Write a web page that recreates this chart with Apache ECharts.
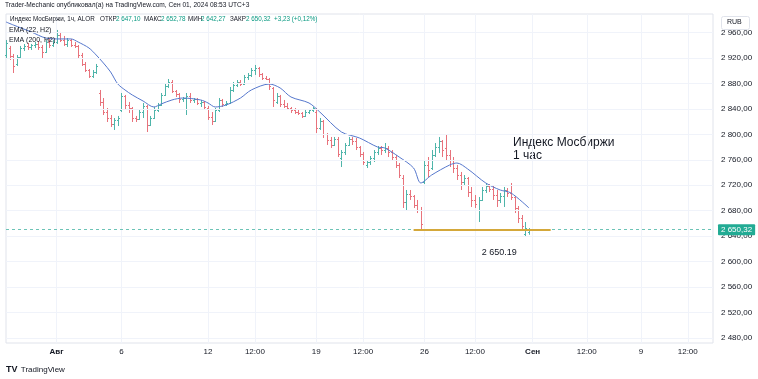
<!DOCTYPE html>
<html><head><meta charset="utf-8">
<script src="https://cdn.jsdelivr.net/npm/echarts@6/dist/echarts.min.js"></script>
<style>html,body{margin:0;padding:0;background:#fff}#c{width:758px;height:379px}</style>
</head><body><div id="c"></div>
<script>
// ---- data (hourly bars, index = bar number) ----
const opens = [2924.7,2935.7,2923.1,2910.6,2921.6,2935.7,2938.9,2937.3,2940.4,2942.0,2937.3,2929.4,2945.1,2940.4,2945.1,2956.1,2948.3,2942.0,2948.3,2940.4,
2938.9,2924.7,2910.6,2901.1,2891.7,2898.0,2865.0,2850.9,2835.1,2825.7,2816.3,2822.6,2838.3,2860.3,2846.1,2841.4,2825.7,2824.1,2835.1,2844.6,
2814.7,2825.7,2838.3,2846.1,2861.9,2876.0,2882.3,2868.1,2863.4,2855.6,2857.1,2860.3,2854.0,2855.6,2849.3,2850.9,2841.4,2827.3,2821.0,2838.3,
2854.0,2847.7,2849.3,2869.7,2877.6,2882.3,2879.1,2890.1,2893.3,2901.1,2904.3,2894.9,2888.6,2887.0,2872.9,2850.9,2860.3,2847.7,2844.6,2841.4,
2838.3,2835.1,2833.6,2828.9,2835.1,2838.3,2835.1,2810.0,2821.0,2800.6,2791.1,2783.3,2792.7,2762.9,2772.3,2783.3,2792.7,2789.6,2780.1,2769.1,
2751.9,2756.6,2762.9,2772.3,2778.6,2775.4,2778.6,2772.3,2764.4,2751.9,2731.4,2693.7,2706.3,2703.1,2689.0,2681.1,2725.1,2751.9,2747.1,2767.6,
2780.1,2789.6,2778.6,2767.6,2759.7,2747.1,2736.1,2725.1,2731.4,2709.4,2696.9,2681.1,2696.9,2712.6,2718.9,2714.1,2704.7,2696.9,2703.1,2712.6,
2707.9,2701.6,2684.3,2668.6,2643.4,2647.10];
const highs = [2948.3,2938.9,2926.3,2924.7,2938.9,2942.0,2943.6,2942.0,2945.1,2946.7,2940.4,2948.3,2951.4,2948.3,2964.0,2960.9,2954.6,2951.4,2949.9,2945.1,
2940.4,2927.9,2913.7,2902.7,2901.1,2910.6,2869.7,2857.1,2841.4,2830.4,2825.7,2828.9,2865.0,2861.9,2850.9,2843.0,2828.9,2838.3,2849.3,2846.1,
2828.9,2843.0,2849.3,2865.0,2880.7,2887.0,2885.4,2869.7,2865.0,2858.7,2865.0,2865.0,2857.1,2857.1,2854.0,2852.4,2844.6,2835.1,2841.4,2857.1,
2855.6,2852.4,2874.4,2882.3,2885.4,2885.4,2893.3,2896.4,2904.3,2909.0,2905.9,2896.4,2891.7,2888.6,2874.4,2865.0,2861.9,2854.0,2849.3,2843.0,
2841.4,2838.3,2835.1,2838.3,2839.9,2843.0,2841.4,2825.7,2822.6,2802.1,2795.9,2795.9,2795.9,2775.4,2786.4,2795.9,2795.9,2794.3,2781.7,2772.3,
2759.7,2766.0,2775.4,2781.7,2781.7,2786.4,2781.7,2775.4,2767.6,2755.0,2736.1,2712.6,2712.6,2704.7,2696.9,2685.9,2759.7,2764.4,2775.4,2786.4,
2795.9,2791.1,2799.0,2775.4,2764.4,2751.9,2740.9,2736.1,2733.0,2717.3,2704.7,2701.6,2717.3,2723.6,2722.0,2718.9,2712.6,2707.9,2717.3,2715.7,
2723.6,2703.1,2687.4,2673.3,2662.3,2652.78];
const lows = [2920.0,2916.9,2896.4,2907.4,2920.0,2931.0,2932.6,2932.6,2935.7,2932.6,2920.0,2927.9,2935.7,2937.3,2942.0,2945.1,2938.9,2937.3,2937.3,2935.7,
2920.0,2907.4,2898.0,2888.6,2888.6,2894.9,2844.6,2830.4,2819.4,2811.6,2806.9,2813.1,2835.1,2838.3,2833.6,2819.4,2819.4,2822.6,2825.7,2803.7,
2813.1,2824.1,2835.1,2844.6,2860.3,2872.9,2865.0,2858.7,2849.3,2850.9,2830.4,2849.3,2849.3,2846.1,2843.0,2838.3,2822.6,2814.7,2819.4,2835.1,
2843.0,2844.6,2847.7,2866.6,2874.4,2876.0,2877.6,2885.4,2890.1,2893.3,2890.1,2885.4,2885.4,2869.7,2843.0,2847.7,2843.0,2841.4,2838.3,2833.6,
2832.0,2830.4,2825.7,2827.3,2832.0,2835.1,2802.1,2806.9,2794.3,2783.3,2778.6,2781.7,2764.4,2748.7,2767.6,2781.7,2783.3,2775.4,2764.4,2751.9,
2747.1,2751.9,2756.6,2767.6,2767.6,2770.7,2764.4,2759.7,2747.1,2731.4,2684.3,2681.1,2696.9,2684.3,2676.4,2649.7,2722.0,2733.0,2744.0,2764.4,
2770.7,2764.4,2759.7,2748.7,2739.3,2728.3,2712.6,2718.9,2701.6,2685.9,2684.3,2662.3,2695.3,2707.9,2709.4,2696.9,2685.9,2692.1,2685.9,2701.6,
2696.9,2676.4,2660.7,2649.7,2638.7,2642.27];
const closes = [2943.6,2923.1,2907.4,2921.6,2935.7,2938.9,2937.3,2940.4,2942.0,2937.3,2929.4,2945.1,2940.4,2945.1,2956.1,2948.3,2942.0,2948.3,2940.4,2938.9,
2924.7,2910.6,2901.1,2891.7,2898.0,2907.4,2850.9,2835.1,2825.7,2816.3,2822.6,2825.7,2860.3,2846.1,2841.4,2825.7,2824.1,2835.1,2844.6,2814.7,
2825.7,2838.3,2846.1,2861.9,2876.0,2882.3,2868.1,2863.4,2855.6,2857.1,2860.3,2854.0,2855.6,2849.3,2850.9,2843.0,2827.3,2821.0,2838.3,2854.0,
2847.7,2849.3,2869.7,2877.6,2882.3,2879.1,2890.1,2893.3,2901.1,2904.3,2894.9,2888.6,2887.0,2876.0,2854.0,2860.3,2847.7,2844.6,2841.4,2838.3,
2835.1,2833.6,2828.9,2835.1,2838.3,2841.4,2810.0,2821.0,2800.6,2791.1,2783.3,2792.7,2769.1,2772.3,2783.3,2792.7,2789.6,2780.1,2769.1,2756.6,
2756.6,2762.9,2772.3,2778.6,2775.4,2778.6,2772.3,2764.4,2751.9,2736.1,2693.7,2706.3,2703.1,2689.0,2681.1,2659.1,2751.9,2744.0,2767.6,2780.1,
2789.6,2775.4,2767.6,2759.7,2747.1,2736.1,2725.1,2731.4,2709.4,2696.9,2690.6,2696.9,2712.6,2718.9,2714.1,2704.7,2696.9,2703.1,2712.6,2707.9,
2701.6,2684.3,2668.6,2656.0,2652.9,2650.32];
// EMA(22) read at some bars
const emaIdx = [0,2,7,11,15,18,20,23,25,27,29,31,33,35,38,41,43,46,49,54,56,58,61,65,68,73,76,79,84,87,93,98,103,105,109,113,115,118,123,125,128,133,137,140,145];
const emaVal = [2976.6,2971.9,2960.9,2951.4,2949.9,2949.9,2945.1,2935.7,2924.7,2912.1,2898.0,2879.1,2869.7,2861.9,2852.4,2843.0,2847.7,2854.0,2857.1,2854.0,2849.3,2843.0,2846.1,2857.1,2869.7,2879.1,2872.9,2858.7,2849.3,2835.1,2803.7,2794.3,2780.1,2778.6,2764.4,2747.1,2723.6,2736.1,2751.9,2755.0,2745.6,2723.6,2712.6,2707.9,2684.3];
const totalSlots = 197;
const tickIdx  = [14,32,56,69,86,99,116,130,146,161,176,189];
const tickText = ['Авг','6','12','12:00','19','12:00','26','12:00','Сен','12:00','9','12:00'];
const priceTicks = [2480,2520,2560,2600,2640,2680,2720,2760,2800,2840,2880,2920,2960];
const lastPrice = 2650.32;
const levelPrice = 2650.19;
const levelFrom = 113, levelTo = 151;

// ---- build ----
const cats = [];
for (let i = 0; i < totalSlots; i++) { const k = tickIdx.indexOf(i); cats.push(k >= 0 ? tickText[k] : ''); }
const ohlc = opens.map((o, i) => [i, o, closes[i], lows[i], highs[i]]);
const ema = new Array(totalSlots).fill(null);
emaIdx.forEach((ix, k) => { ema[ix] = emaVal[k]; });
const UP = '#4fb5aa', DOWN = '#e8737c';
const fmtPrice = v => { const s = v.toFixed(2).split('.'); const n = s[0]; return n.slice(0, n.length-3) + ' ' + n.slice(-3) + ',' + s[1]; };

const chart = echarts.init(document.getElementById('c'));
const FONT = 'Liberation Sans';
const hdr = (text, left, color) => ({ type: 'text', left: left, top: 16, z: 50, style: { text: text, fontSize: 6.3, fill: color, fontFamily: FONT } });
chart.setOption({
  animation: false,
  textStyle: { fontFamily: FONT },
  grid: { left: 6, right: 45, top: 14, bottom: 36, show: true, borderColor: '#e0e3eb', borderWidth: 1 },
  xAxis: {
    type: 'category', data: cats, boundaryGap: false,
    axisLine: { show: false }, axisTick: { show: false },
    axisLabel: { interval: 0, fontSize: 8, color: '#131722', margin: 5,
      formatter: v => (v === 'Авг' || v === 'Сен') ? '{b|' + v + '}' : v,
      rich: { b: { fontWeight: 'bold', fontSize: 8, color: '#131722' } } },
    splitLine: { show: true, interval: (i) => cats[i] !== '', lineStyle: { color: '#f0f3fa', width: 1 } }
  },
  yAxis: {
    type: 'value', position: 'right', min: 2472.2, max: 2989.1, scale: true,
    axisLine: { show: false }, axisTick: { show: false }, splitLine: { show: false },
    axisLabel: { customValues: priceTicks, fontSize: 8, color: '#131722', margin: 8, formatter: v => fmtPrice(v) }
  },
  series: [
    { type: 'line', data: [], z: 0, silent: true,
      markLine: { silent: true, symbol: 'none', animation: false,
        label: { show: false }, lineStyle: { color: '#f0f3fa', width: 1, type: 'solid' },
        data: priceTicks.map(p => ({ yAxis: p })) } },
    { type: 'custom', z: 2,
      encode: { x: 0, y: [1, 2, 3, 4] },
      data: ohlc,
      renderItem: (params, api) => {
        const x = api.value(0), o = api.value(1), c = api.value(2), l = api.value(3), h = api.value(4);
        const po = api.coord([x, o]), pc = api.coord([x, c]), pl = api.coord([x, l]), ph = api.coord([x, h]);
        const cx = Math.round(po[0]) + 0.5;
        const col = c >= o ? UP : DOWN;
        const st = { stroke: col, lineWidth: 1 };
        return { type: 'group', children: [
          { type: 'line', shape: { x1: cx, y1: ph[1], x2: cx, y2: pl[1] }, style: st },
          { type: 'line', shape: { x1: cx - 1.5, y1: Math.round(po[1]) + 0.5, x2: cx, y2: Math.round(po[1]) + 0.5 }, style: st },
          { type: 'line', shape: { x1: cx, y1: Math.round(pc[1]) + 0.5, x2: cx + 1.5, y2: Math.round(pc[1]) + 0.5 }, style: st }
        ] };
      } },
    { type: 'line', data: ema, connectNulls: true, smooth: 0.3, showSymbol: false, z: 3,
      lineStyle: { color: '#5577cc', width: 1 },
      markLine: { silent: true, symbol: 'none', animation: false,
        data: [
          { yAxis: lastPrice, lineStyle: { type: [3, 3], color: '#6cc3b6', width: 1 },
            label: { show: true, position: 'end', distance: 5, formatter: fmtPrice(lastPrice), color: '#fff', fontSize: 8,
              backgroundColor: '#22ab94', padding: [2, 3, 1, 3], borderRadius: 1 } },
          [ { coord: [levelFrom, levelPrice], lineStyle: { color: '#d4a83a', width: 2, type: 'solid' },
              label: { show: true, position: 'insideMiddleBottom', formatter: '2 650.19', color: '#131722', fontSize: 9, distance: 18, offset: [17, 0] } },
            { coord: [levelTo, levelPrice] } ]
        ] } }
  ],
  graphic: [
    { type: 'text', left: 5, top: 2, style: { text: 'Trader-Mechanic опубликовал(а) на TradingView.com, Сен 01, 2024 08:53 UTC+3', fontSize: 6.6, fill: '#131722', fontFamily: FONT } },
    hdr('Индекс МосБиржи, 1ч, ALOR', 10, '#131722'),
    hdr('ОТКР', 100, '#131722'), hdr('2 647,10', 116, '#089981'),
    hdr('МАКС', 144, '#131722'), hdr('2 652,78', 161, '#089981'),
    hdr('МИН', 188, '#131722'), hdr('2 642,27', 201, '#089981'),
    hdr('ЗАКР', 230, '#131722'), hdr('2 650,32', 246, '#089981'),
    hdr('+3,23 (+0,12%)', 274, '#089981'),
    { type: 'text', left: 9, top: 27, z: 50, style: { text: 'EMA (22, H2)', fontSize: 7, fill: '#131722', fontFamily: FONT } },
    { type: 'text', left: 9, top: 37, z: 50, style: { text: 'EMA (200, H2)', fontSize: 7, fill: '#131722', fontFamily: FONT } },
    { type: 'rect', left: 721, top: 16, shape: { width: 28, height: 13, r: 2 }, style: { fill: '#fff', stroke: '#e0e3eb', lineWidth: 1 }, z: 100 },
    { type: 'text', left: 727, top: 19, style: { text: 'RUB', fontSize: 7, fill: '#131722', fontFamily: FONT }, z: 101 },
    { type: 'text', left: 513, top: 136, style: { text: 'Индекс Мосбиржи\n1 час', fontSize: 12, lineHeight: 13, fill: '#131722', fontFamily: FONT } },
    { type: 'text', left: 6, top: 364, style: { rich: {
        l: { fontSize: 9, fontWeight: 'bold', fill: '#131722', fontFamily: FONT },
        t: { fontSize: 8, fill: '#131722', fontFamily: FONT } }, text: '{l|TV} {t|TradingView}' } }
  ]
});
</script></body></html>
